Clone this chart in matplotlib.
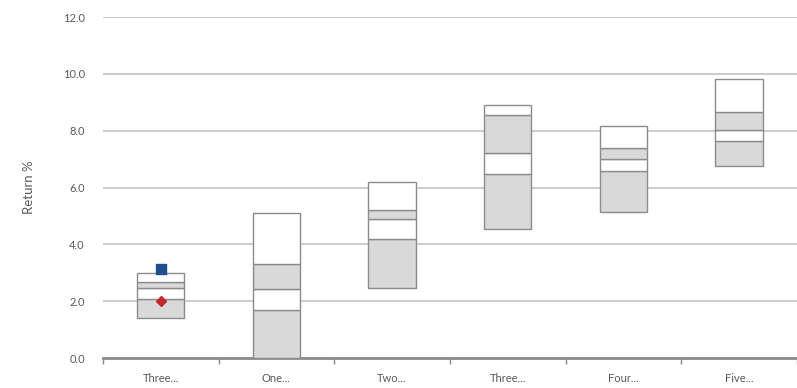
import numpy as np
import matplotlib
matplotlib.use("Agg")
import matplotlib.pyplot as plt

# labels and percentile values
categories = ["Three...", "One...", "Two...", "Three...", "Four...", "Five..."]
p5 = [1.41, 0.0, 2.48, 4.55, 5.15, 6.77]
p25 = [2.07, 1.71, 4.18, 6.49, 6.58, 7.63]
p50 = [2.47, 2.42, 4.89, 7.20, 7.00, 8.04]
p75 = [2.68, 3.31, 5.21, 8.55, 7.40, 8.65]
p95 = [2.98, 5.12, 6.19, 8.90, 8.15, 9.82]

# markers only on the first group
square_val = [3.15]
diamond_val = [2.0]

grey = "#d9d9d9"
edge = "#8c8c8c"
txt = "#595959"

plt.rcParams['font.family'] = ['Lato', 'DejaVu Sans']

fig = plt.figure(figsize=(7.97, 3.88), dpi=100)
ax = fig.add_axes([0.129, 0.077, 0.871, 0.879])

x = np.arange(len(categories))
p5 = np.array(p5); p25 = np.array(p25); p50 = np.array(p50)
p75 = np.array(p75); p95 = np.array(p95)
w = 0.41

segs = [(p5, p25, grey), (p25, p50, "white"), (p50, p75, grey), (p75, p95, "white")]
for lo, hi, col in segs:
    ax.bar(x, hi - lo, bottom=lo, width=w, color=col, edgecolor=edge,
           linewidth=1.0, zorder=3)

ax.plot([0], square_val, marker="s", color="#1f4e8c", markersize=7,
        linestyle="none", zorder=4)
ax.plot([0], diamond_val, marker="D", color="#c0282d", markersize=5.5,
        linestyle="none", zorder=4)

ax.set_xlim(-0.5, len(categories) - 0.5)
ax.set_ylim(0, 12)
ax.set_yticks(np.arange(0, 12.1, 2))
ax.set_yticklabels([f"{v:.1f}" for v in np.arange(0, 12.1, 2)])
ax.yaxis.grid(True, color="#cccccc", linewidth=1.4, zorder=0)
ax.set_axisbelow(True)

ax.set_xticks(x)
ax.set_xticklabels(categories)
ax.set_xticks(np.arange(-0.5, len(categories)), minor=True)
ax.tick_params(axis="x", which="major", length=0, pad=11, labelsize=8, labelcolor=txt)
ax.tick_params(axis="x", which="minor", length=4, width=1, color="#8c8c8c")
ax.tick_params(axis="y", length=0, pad=13, labelsize=8, labelcolor=txt)

for s in ["top", "right", "left"]:
    ax.spines[s].set_visible(False)
ax.spines["bottom"].set_color("#8c8c8c")
ax.spines["bottom"].set_linewidth(2)

ax.set_ylabel("Return %", fontsize=9.5, color=txt, labelpad=20)

fig.savefig("out.png", dpi=100)
